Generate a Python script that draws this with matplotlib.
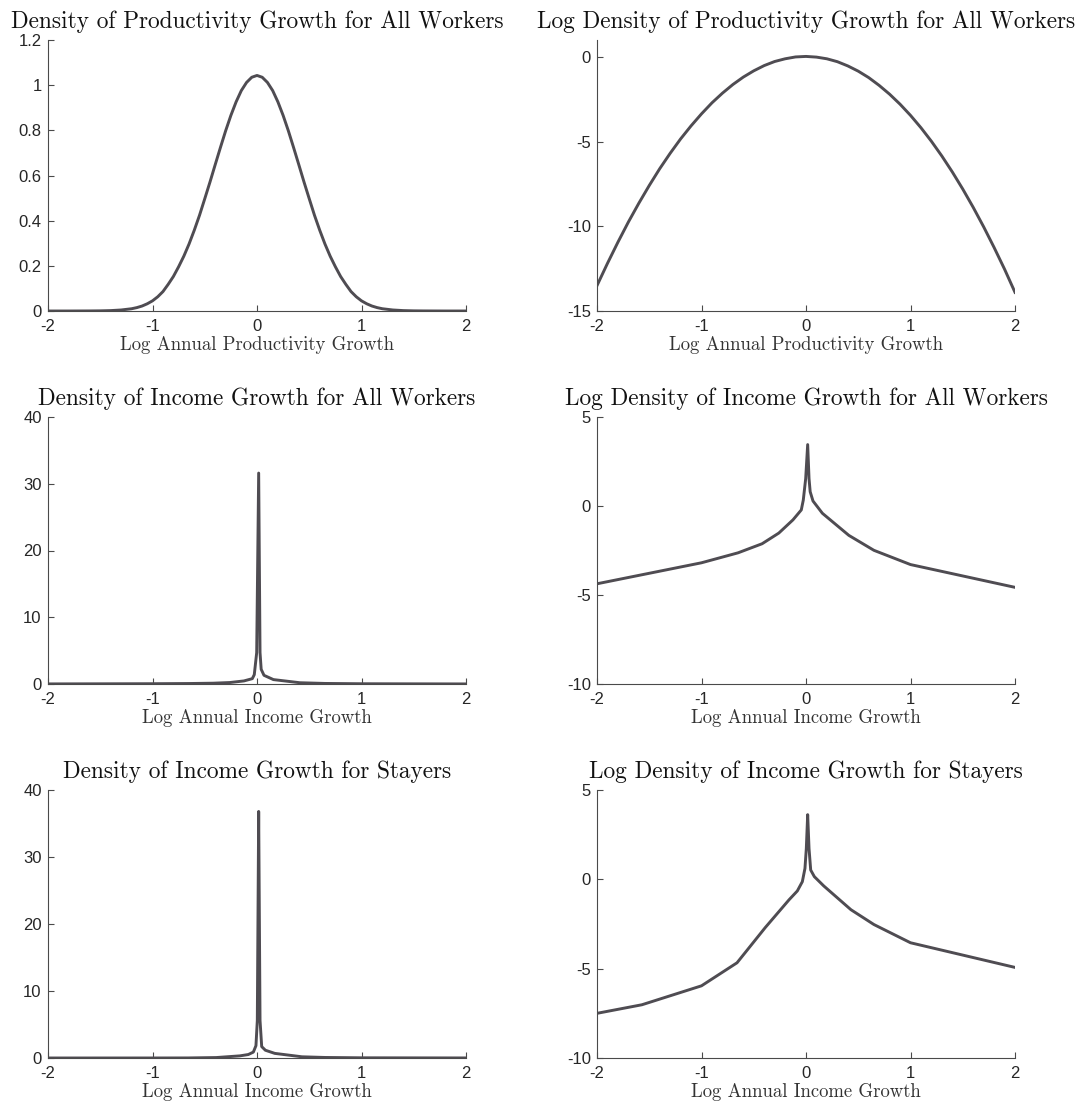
import matplotlib
matplotlib.use("Agg")
import matplotlib.pyplot as plt

# ---- data ----
prod_x = [-2.0, -1.8, -1.6, -1.5, -1.4, -1.3, -1.2, -1.15, -1.1, -1.05, -1.0, -0.95, -0.9,
          -0.85, -0.8, -0.75, -0.7, -0.65, -0.6, -0.55,
          -0.5, -0.45, -0.4, -0.35, -0.3, -0.25, -0.2, -0.15, -0.1, -0.05, 0.0,
          0.05, 0.1, 0.15, 0.2, 0.25, 0.3, 0.35, 0.4, 0.45, 0.5,
          0.55, 0.6, 0.65, 0.7, 0.75, 0.8, 0.85, 0.9, 0.95, 1.0, 1.05, 1.1, 1.15, 1.2,
          1.3, 1.4, 1.5, 1.6, 1.8, 2.0]
prod_dens = [0.0, 0.0, 0.0003, 0.0007, 0.0018, 0.0045, 0.010, 0.015, 0.022, 0.032, 0.045, 0.063, 0.086,
             0.118, 0.153, 0.196, 0.243, 0.297, 0.358, 0.424,
             0.497, 0.571, 0.648, 0.724, 0.798, 0.866, 0.926, 0.976, 1.012, 1.035, 1.043,
             1.035, 1.012, 0.976, 0.926, 0.866, 0.798, 0.724, 0.648, 0.571, 0.497,
             0.424, 0.358, 0.297, 0.243, 0.196, 0.153, 0.118, 0.086, 0.063, 0.045, 0.032, 0.022, 0.015, 0.010,
             0.0045, 0.0018, 0.0007, 0.0003, 0.0, 0.0]

prod_log_x = [-2.0, -1.9, -1.8, -1.7, -1.6, -1.5, -1.4, -1.3, -1.2, -1.1, -1.0,
              -0.9, -0.8, -0.7, -0.6, -0.5, -0.4, -0.3, -0.2, -0.1, 0.0,
              0.1, 0.2, 0.3, 0.4, 0.5, 0.6, 0.7, 0.8, 0.9, 1.0,
              1.1, 1.2, 1.3, 1.4, 1.5, 1.6, 1.7, 1.8, 1.9, 2.0]
prod_log = [-13.5, -12.19, -10.94, -9.75, -8.64, -7.59, -6.60, -5.69, -4.84, -4.07, -3.36,
            -2.71, -2.14, -1.63, -1.19, -0.82, -0.51, -0.27, -0.11, 0.0, 0.03,
            -0.01, -0.11, -0.28, -0.53, -0.84, -1.22, -1.68, -2.2, -2.79, -3.45,
            -4.18, -4.98, -5.85, -6.79, -7.8, -8.88, -10.03, -11.25, -12.53, -13.9]

all_x = [-2.0, -1.0, -0.65, -0.42, -0.26, -0.125, -0.045, -0.026, -0.003, 0.016,
         0.029, 0.04, 0.067, 0.157, 0.41, 0.65, 1.0, 2.0]
all_dens = [0.013, 0.043, 0.072, 0.12, 0.22, 0.46, 0.80, 1.4, 4.7, 31.6,
            4.7, 2.2, 1.3, 0.66, 0.19, 0.083, 0.037, 0.010]
all_log = [-4.37, -3.19, -2.63, -2.12, -1.52, -0.78, -0.22, 0.33, 1.54, 3.45,
           1.54, 0.8, 0.28, -0.41, -1.65, -2.49, -3.29, -4.57]

stay_x = [-2.0, -1.57, -1.0, -0.66, -0.39, -0.163, -0.083, -0.035, -0.01, 0.003, 0.016,
          0.029, 0.045, 0.08, 0.17, 0.43, 0.65, 1.0, 2.0]
stay_dens = [0.00055, 0.0009, 0.0025, 0.0094, 0.067, 0.32, 0.52, 0.88, 1.84, 5.6, 36.8,
             5.6, 1.7, 1.16, 0.69, 0.18, 0.08, 0.029, 0.0072]
stay_log = [-7.5, -7.02, -5.96, -4.67, -2.7, -1.15, -0.65, -0.13, 0.61, 1.72, 3.62,
            1.72, 0.52, 0.15, -0.37, -1.70, -2.53, -3.55, -4.93]

x_ticks = [-2, -1, 0, 1, 2]

panels = [
    ("Density of Productivity Growth for All Workers", "Log Annual Productivity Growth",
     prod_x, prod_dens, (0, 1.2), [0, 0.2, 0.4, 0.6, 0.8, 1.0, 1.2],
     ["0", "0.2", "0.4", "0.6", "0.8", "1", "1.2"]),
    ("Log Density of Productivity Growth for All Workers", "Log Annual Productivity Growth",
     prod_log_x, prod_log, (-15, 1), [-15, -10, -5, 0], ["-15", "-10", "-5", "0"]),
    ("Density of Income Growth for All Workers", "Log Annual Income Growth",
     all_x, all_dens, (0, 40), [0, 10, 20, 30, 40], ["0", "10", "20", "30", "40"]),
    ("Log Density of Income Growth for All Workers", "Log Annual Income Growth",
     all_x, all_log, (-10, 5), [-10, -5, 0, 5], ["-10", "-5", "0", "5"]),
    ("Density of Income Growth for Stayers", "Log Annual Income Growth",
     stay_x, stay_dens, (0, 40), [0, 10, 20, 30, 40], ["0", "10", "20", "30", "40"]),
    ("Log Density of Income Growth for Stayers", "Log Annual Income Growth",
     stay_x, stay_log, (-10, 5), [-10, -5, 0, 5], ["-10", "-5", "0", "5"]),
]

W, H = 1078, 1105
cols = [(48, 466), (597, 1015)]
rows = [(40, 311), (417, 684), (790, 1058)]

line_color = "#4f4c52"
axis_color = "#4a4a4a"

fig = plt.figure(figsize=(W / 100, H / 100), dpi=100)

for i, (title, xlabel, xs, ys, ylim, yticks, ylabels) in enumerate(panels):
    (x0, x1), (y0, y1) = cols[i % 2], rows[i // 2]
    ax = fig.add_axes([x0 / W, 1 - y1 / H, (x1 - x0) / W, (y1 - y0) / H])
    ax.plot(xs, ys, color=line_color, lw=2.1, solid_joinstyle="round")
    ax.set_xlim(-2, 2)
    ax.set_ylim(*ylim)
    ax.set_xticks(x_ticks)
    ax.set_xticklabels([str(t) for t in x_ticks])
    ax.set_yticks(yticks)
    ax.set_yticklabels(ylabels)
    for s in ["top", "right"]:
        ax.spines[s].set_visible(False)
    for s in ["left", "bottom"]:
        ax.spines[s].set_color(axis_color)
        ax.spines[s].set_linewidth(0.8)
    ax.tick_params(direction="in", length=4, width=0.8, color=axis_color,
                   labelsize=12, labelcolor="#262626")
    ax.tick_params(axis="x", pad=5.5)
    ax.tick_params(axis="y", pad=4.5)
    for lab in ax.get_xticklabels() + ax.get_yticklabels():
        lab.set_fontfamily("Liberation Sans")
    ax.set_title(title, fontfamily="cmr10", fontsize=16.8, pad=8.5, color="#111111")
    ax.set_xlabel(xlabel, fontfamily="cmr10", fontsize=13.5, labelpad=2, color="#333333")

fig.savefig("out.png", dpi=100)
